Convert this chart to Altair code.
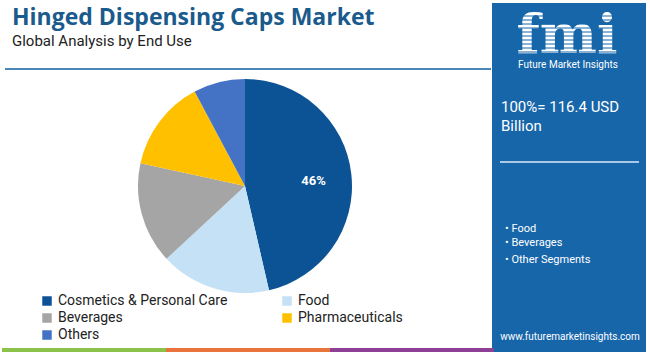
import altair as alt
import pandas as pd

# ---- data ----
segments = ["Cosmetics & Personal Care", "Food", "Beverages", "Pharmaceuticals", "Others"]
shares = [46.4, 16.7, 15.3, 13.8, 7.8]
labels = ["46%", "", "", "", ""]
colors = ["#0b5394", "#c5e1f5", "#a5a5a5", "#ffc000", "#4472c4"]
# legend is filled column by column: 3 rows, 2 columns
legend_order = ["Cosmetics & Personal Care", "Beverages", "Others", "Food", "Pharmaceuticals"]

title_text = "Hinged Dispensing Caps Market"
subtitle_text = "Global Analysis by End Use"
total_lines = ["100%= 116.4 USD", "Billion"]
bullets = ["• Food", "• Beverages", "• Other Segments"]
url_text = "www.futuremarketinsights.com"
strip_colors = ["#8bc34a", "#e8743b", "#8e3f96"]

W, H = 650, 352
PANEL = "#1766aa"
FONT = "Roboto"

df = pd.DataFrame({"Segment": segments, "Share": shares, "Label": labels,
                   "idx": list(range(len(segments)))})
one = pd.DataFrame({"a": [0]})

color_map = dict(zip(segments, colors))
color_scale = alt.Scale(domain=legend_order, range=[color_map[s] for s in legend_order])

pie = alt.Chart(df).mark_arc(outerRadius=107, stroke=None).encode(
    theta=alt.Theta("Share:Q", stack=True),
    color=alt.Color("Segment:N", scale=color_scale, sort=legend_order,
                    legend=alt.Legend(orient="none", legendX=40, legendY=294,
                                      columns=2, columnPadding=52, rowPadding=3,
                                      symbolType="square", symbolSize=90,
                                      symbolStrokeWidth=0, labelFontSize=14,
                                      labelFont=FONT, labelColor="#222222",
                                      title=None, labelLimit=300)),
    order=alt.Order("idx:Q"),
    x=alt.value(245), y=alt.value(186),
)

pie_text = alt.Chart(df).mark_text(radius=70, fontSize=13, fontWeight="bold",
                                   color="white", font=FONT).encode(
    theta=alt.Theta("Share:Q", stack=True),
    order=alt.Order("idx:Q"),
    text="Label:N",
    x=alt.value(244), y=alt.value(189),
)

def txt(s, x, y, size, color="#222222", weight="normal", align="left", font=FONT,
        baseline="middle"):
    return alt.Chart(one).mark_text(text=s, fontSize=size, color=color, fontWeight=weight,
                                    align=align, baseline=baseline, font=font).encode(
        x=alt.value(x), y=alt.value(y))

def rect(x, x2, y, y2, color):
    return alt.Chart(one).mark_rect(color=color).encode(
        x=alt.value(x), x2=alt.value(x2), y=alt.value(y), y2=alt.value(y2))

def hline(x, x2, y, color, w):
    return alt.Chart(one).mark_rule(color=color, strokeWidth=w).encode(
        x=alt.value(x), x2=alt.value(x2), y=alt.value(y))

layers = []
layers.append(rect(0, W, 0, H, "white"))
layers.append(txt(title_text, 12, 18, 23, color="#1a5a8c", weight="bold", font="Open Sans"))
layers.append(txt(subtitle_text, 12, 41, 15))
layers.append(hline(5, 491, 69, "#4a86b8", 2))

# right panel
layers.append(rect(492, 646, 3, 352, PANEL))
layers.append(txt("fmi", 567, 53, 54, color="white", weight="bold", align="center",
                  font="DejaVu Serif", baseline="alphabetic"))
for yy in range(16, 54, 4):
    layers.append(hline(505, 635, yy, PANEL, 1.2))
layers.append(txt("Future Market Insights", 568, 65, 10, color="white", align="center"))
layers.append(txt(total_lines[0], 501, 107, 15, color="white"))
layers.append(txt(total_lines[1], 501, 126, 15, color="white"))
layers.append(hline(500, 639, 162, "#a9c9e6", 2))
for i, b in enumerate(bullets):
    layers.append(txt(b, 505, [229, 243, 260][i], 11, color="white"))
layers.append(txt(url_text, 570, 337, 10, color="white", align="center"))

# bottom strip
for i, c in enumerate(strip_colors):
    layers.append(rect(2 + i * 164, 2 + (i + 1) * 164, 348, 352, c))

chart = alt.layer(*layers, pie, pie_text).properties(
    width=W, height=H, padding=0, autosize=alt.AutoSizeParams(type="none")
).configure_view(stroke=None)

chart.save("out.html", embed_options={"renderer": "svg", "actions": False})
